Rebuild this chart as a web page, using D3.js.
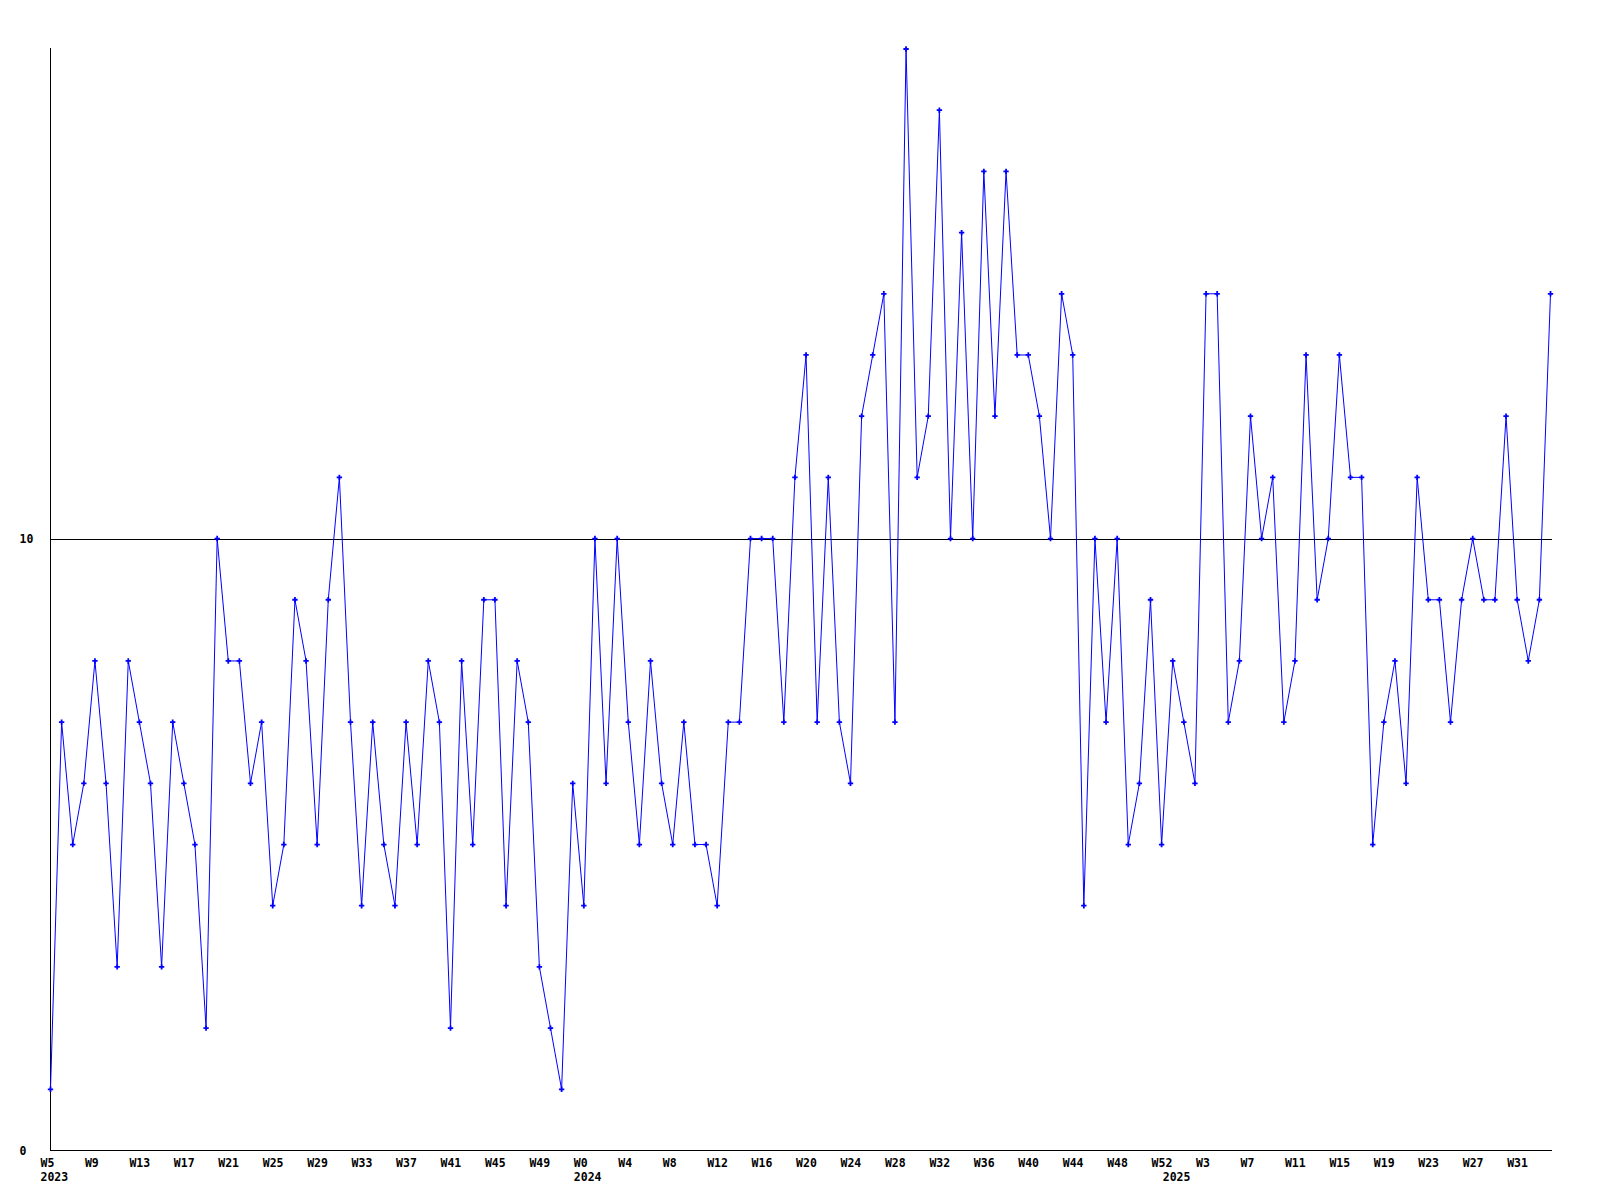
<!DOCTYPE html>
<html>
<head>
<meta charset="utf-8">
<script src="https://cdn.jsdelivr.net/npm/d3@7"></script>
<style>
  html, body { margin: 0; padding: 0; background: #fff; }
  svg { display: block; }
  text { font-family: "DejaVu Sans Mono", "Liberation Mono", monospace; font-weight: bold; font-size: 11.5px; fill: #000; }
</style>
</head>
<body>
<svg id="chart" width="1600" height="1200"></svg>
<script>
// ---- data ----
const years = ["2023", "2024", "2025"];
const firstWeek = [5, 0, 0];
const lastWeek = [52, 52, 34];
const values = [
  1, 7, 5, 6, 8, 6, 3, 8, 7, 6,
  3, 7, 6, 5, 2, 10, 8, 8, 6, 7,
  4, 5, 9, 8, 5, 9, 11, 7, 4, 7,
  5, 4, 7, 5, 8, 7, 2, 8, 5, 9,
  9, 4, 8, 7, 3, 2, 1, 6, 4, 10,
  6, 10, 7, 5, 8, 6, 5, 7, 5, 5,
  4, 7, 7, 10, 10, 10, 7, 11, 13, 7,
  11, 7, 6, 12, 13, 14, 7, 18, 11, 12,
  17, 10, 15, 10, 16, 12, 16, 13, 13, 12,
  10, 14, 13, 4, 10, 7, 10, 5, 6, 9,
  5, 8, 7, 6, 14, 14, 7, 8, 12, 10,
  11, 7, 8, 13, 9, 10, 13, 11, 11, 5,
  7, 8, 6, 11, 9, 9, 7, 9, 10, 9,
  9, 12, 9, 8, 9, 14
];
const yTicks = [0, 10];
const yMax = 18;

(function () {
  // categories: year-week keys
  const categories = [];
  years.forEach((yr, k) => {
    for (let w = firstWeek[k]; w <= lastWeek[k]; w++) categories.push({ year: yr, week: "W" + w, key: yr + "-W" + w });
  });
  const data = categories.map((c, i) => ({ ...c, value: values[i] }));

  // ---- layout ----
  const svg = d3.select("#chart");
  const mLeft = 50.5, mRight = 1550.5, mTop = 49, mBottom = 1150.5;

  const x = d3.scalePoint().domain(categories.map(c => c.key)).range([mLeft, mRight]);
  const y = d3.scaleLinear().domain([0, yMax]).range([mBottom, mTop]);

  // gridline at 10 and axes
  svg.append("g").selectAll("line")
    .data(yTicks.filter(t => t > 0))
    .join("line")
    .attr("x1", mLeft).attr("x2", mRight + 1)
    .attr("y1", d => Math.round(y(d)) + 0.5).attr("y2", d => Math.round(y(d)) + 0.5)
    .attr("stroke", "#000").attr("stroke-width", 1).attr("shape-rendering", "crispEdges");

  svg.append("line")
    .attr("x1", mLeft).attr("x2", mLeft).attr("y1", mTop - 1).attr("y2", mBottom)
    .attr("stroke", "#000").attr("shape-rendering", "crispEdges");
  svg.append("line")
    .attr("x1", mLeft).attr("x2", mRight + 1).attr("y1", mBottom).attr("y2", mBottom)
    .attr("stroke", "#000").attr("shape-rendering", "crispEdges");

  // y labels
  svg.append("g").selectAll("text")
    .data(yTicks)
    .join("text")
    .attr("x", 19.5)
    .attr("y", d => y(d) + 4)
    .text(d => d);

  // x labels: every 4th week, year label at first week of each year
  const xl = svg.append("g");
  xl.selectAll("text.wk")
    .data(data.filter((d, i) => i % 4 === 0))
    .join("text").attr("class", "wk")
    .attr("x", d => x(d.key) - 10)
    .attr("y", 1166.5)
    .text(d => d.week);
  xl.selectAll("text.yr")
    .data(data.filter((d, i) => i === 0 || d.year !== data[i - 1].year))
    .join("text").attr("class", "yr")
    .attr("x", d => x(d.key) - 10)
    .attr("y", 1181)
    .text(d => d.year);

  // line
  const line = d3.line().x(d => x(d.key)).y(d => y(d.value));
  svg.append("path")
    .datum(data)
    .attr("d", line)
    .attr("fill", "none")
    .attr("stroke", "#0000ff")
    .attr("stroke-width", 1);

  // markers
  svg.append("g").selectAll("path")
    .data(data)
    .join("path")
    .attr("transform", d => `translate(${x(d.key)},${y(d.value)})`)
    .attr("d", d3.symbol(d3.symbolCross, 16))
    .attr("fill", "#0000ff");
})();
</script>
</body>
</html>
